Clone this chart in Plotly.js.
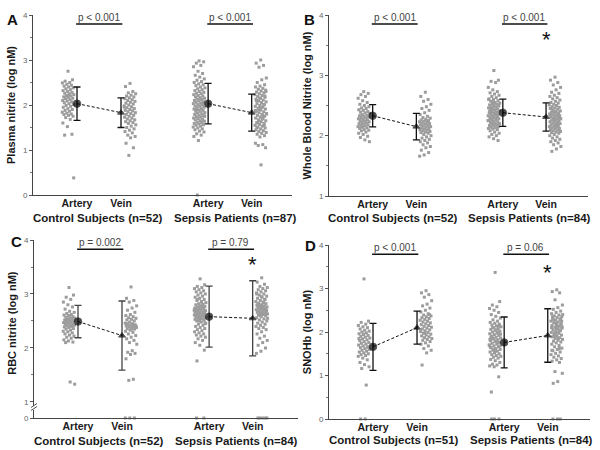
<!DOCTYPE html>
<html><head><meta charset="utf-8">
<script src="https://cdn.plot.ly/plotly-3.0.1.min.js"></script>
<style>html,body{margin:0;padding:0;background:#fff}#chart{width:600px;height:450px}</style>
</head><body><div id="chart"></div>
<script>
// ---------- shared categories ----------
const xpos = [1, 2, 3.98, 4.97];
const tickText = ['Artery', 'Vein', 'Artery', 'Vein'];

// ---------- Panel A : Plasma nitrite ----------
const A_ytitle = 'Plasma nitrite (log nM)';
const A_groups = ['Control Subjects (n=52)', 'Sepsis Patients (n=87)'];
const A_pvalues = ['p < 0.001', 'p < 0.001'];
const A_means = [2.03, 1.83, 2.03, 1.83];
const A_sd = [0.37, 0.33, 0.45, 0.41];
const A_ctrl_artery = [2.75,2.56,2.53,2.50,2.49,2.46,2.44,2.42,2.40,2.38,2.36,2.34,2.32,2.30,2.28,2.26,2.25,2.23,2.21,2.20,2.18,2.17,2.15,2.14,2.12,2.10,2.09,2.07,2.05,2.03,2.01,1.99,1.97,1.95,1.92,1.90,1.88,1.86,1.84,1.82,1.80,1.79,1.77,1.75,1.72,1.68,1.60,1.52,1.35,1.33,2.22,0.38];
const A_ctrl_vein = [2.48,2.41,2.30,2.27,2.25,2.22,2.20,2.18,2.16,2.14,2.12,2.10,2.08,2.06,2.04,2.02,2.00,1.98,1.96,1.94,1.92,1.90,1.88,1.87,1.85,1.83,1.81,1.79,1.77,1.75,1.73,1.71,1.69,1.67,1.65,1.63,1.61,1.59,1.56,1.53,1.50,1.47,1.44,1.41,1.38,1.33,1.30,1.27,1.15,1.05,0.88,1.95];
const A_sepsis_artery = [2.98,2.96,2.93,2.88,2.85,2.75,2.70,2.66,2.62,2.58,2.55,2.52,2.50,2.47,2.45,2.43,2.40,2.38,2.36,2.34,2.32,2.30,2.28,2.26,2.25,2.23,2.21,2.20,2.18,2.16,2.15,2.13,2.12,2.10,2.09,2.07,2.06,2.04,2.03,2.01,2.00,1.98,1.97,1.95,1.94,1.92,1.91,1.89,1.88,1.86,1.85,1.83,1.82,1.80,1.79,1.77,1.76,1.74,1.73,1.71,1.70,1.68,1.67,1.65,1.64,1.62,1.61,1.59,1.58,1.56,1.55,1.53,1.51,1.49,1.47,1.45,1.42,1.40,1.36,1.33,1.30,1.21,2.05,1.90,2.15,1.75,0.0];
const A_sepsis_vein = [3.00,2.93,2.88,2.84,2.60,2.56,2.50,2.45,2.42,2.40,2.37,2.35,2.33,2.31,2.29,2.27,2.25,2.23,2.21,2.19,2.17,2.15,2.13,2.11,2.09,2.07,2.05,2.03,2.01,1.99,1.97,1.95,1.93,1.91,1.89,1.87,1.85,1.83,1.81,1.79,1.77,1.75,1.73,1.71,1.69,1.67,1.65,1.63,1.61,1.59,1.57,1.55,1.53,1.51,1.49,1.47,1.45,1.43,1.41,1.39,1.37,1.35,1.32,1.29,1.15,1.12,1.10,1.05,0.67,2.10,2.00,1.90,1.80,1.70,1.60,2.20,1.95,1.85,1.75,1.65,2.30,2.05,1.50,1.55,2.15,1.88,1.78];

// ---------- Panel B : Whole blood nitrite ----------
const B_ytitle = 'Whole Blood Nitrite (log nM)';
const B_groups = ['Control Subjects (n=52)', 'Sepsis Patients (n=84)'];
const B_pvalues = ['p < 0.001', 'p < 0.001'];
const B_means = [2.33, 2.15, 2.38, 2.31];
const B_sd = [0.185, 0.22, 0.225, 0.235];
const B_ctrl_artery = [2.73,2.70,2.68,2.65,2.62,2.58,2.55,2.52,2.50,2.48,2.46,2.45,2.43,2.42,2.40,2.39,2.38,2.37,2.35,2.34,2.33,2.32,2.31,2.30,2.29,2.28,2.27,2.26,2.25,2.24,2.23,2.22,2.21,2.20,2.19,2.18,2.17,2.16,2.15,2.14,2.13,2.12,2.10,2.09,2.08,2.06,2.04,2.02,1.99,1.97,1.93,1.90];
const B_ctrl_vein = [2.72,2.65,2.60,2.57,2.52,2.48,2.45,2.42,2.38,2.35,2.32,2.30,2.29,2.27,2.26,2.25,2.24,2.23,2.22,2.21,2.20,2.19,2.18,2.17,2.16,2.15,2.14,2.13,2.12,2.11,2.10,2.09,2.08,2.07,2.06,2.05,2.04,2.02,2.00,1.98,1.96,1.94,1.92,1.90,1.88,1.85,1.82,1.80,1.76,1.72,1.68,1.66];
const B_sepsis_artery = [3.08,2.92,2.90,2.88,2.80,2.76,2.73,2.71,2.69,2.67,2.65,2.63,2.61,2.60,2.58,2.57,2.55,2.54,2.53,2.52,2.51,2.50,2.49,2.48,2.47,2.46,2.45,2.44,2.43,2.42,2.41,2.40,2.39,2.38,2.37,2.36,2.35,2.34,2.33,2.32,2.31,2.30,2.29,2.28,2.27,2.26,2.25,2.24,2.23,2.22,2.21,2.20,2.19,2.18,2.17,2.16,2.15,2.14,2.13,2.12,2.11,2.10,2.08,2.06,2.04,2.02,2.00,1.98,1.95,1.92,2.45,2.35,2.25,2.55,2.30,2.40,2.20,2.50,2.28,2.38,2.60,2.18,2.33,2.43];
const B_sepsis_vein = [2.97,2.92,2.88,2.84,2.80,2.76,2.72,2.70,2.67,2.65,2.63,2.61,2.59,2.57,2.55,2.54,2.52,2.51,2.50,2.48,2.47,2.46,2.45,2.44,2.42,2.41,2.40,2.39,2.38,2.37,2.36,2.35,2.34,2.33,2.32,2.31,2.30,2.29,2.28,2.27,2.26,2.25,2.24,2.23,2.22,2.21,2.20,2.19,2.18,2.17,2.16,2.15,2.14,2.13,2.12,2.11,2.10,2.09,2.08,2.07,2.06,2.05,2.04,2.02,2.00,1.98,1.96,1.94,1.92,1.90,1.88,1.85,1.82,1.78,1.74,2.30,2.25,2.35,2.20,2.40,2.28,2.15,2.45,2.33];

// ---------- Panel C : RBC nitrite ----------
const C_ytitle = 'RBC nitrite (log nM)';
const C_groups = ['Control Subjects (n=52)', 'Sepsis Patients (n=84)'];
const C_pvalues = ['p = 0.002', 'p = 0.79'];
const C_means = [2.49, 2.23, 2.58, 2.55];
const C_sd = [0.30, 0.64, 0.565, 0.695];
const C_ctrl_artery = [3.12,2.98,2.94,2.90,2.85,2.80,2.76,2.72,2.68,2.66,2.64,2.62,2.61,2.60,2.58,2.57,2.56,2.55,2.54,2.53,2.52,2.51,2.50,2.49,2.48,2.47,2.46,2.45,2.44,2.43,2.42,2.41,2.40,2.39,2.38,2.36,2.35,2.33,2.31,2.30,2.28,2.26,2.24,2.22,2.20,2.18,2.15,2.13,2.11,2.10,1.37,1.33];
const C_ctrl_vein = [3.13,2.92,2.88,2.85,2.78,2.74,2.70,2.66,2.62,2.60,2.58,2.56,2.55,2.53,2.52,2.50,2.48,2.46,2.45,2.44,2.43,2.42,2.41,2.40,2.39,2.38,2.37,2.36,2.35,2.33,2.31,2.29,2.26,2.23,2.20,2.17,2.14,2.10,2.07,1.95,1.92,1.90,1.88,1.80,1.42,1.40,2.40,2.35,2.45,0,0,0];
const C_sepsis_artery = [3.28,3.17,3.14,3.12,3.10,3.08,3.06,3.04,3.02,3.00,2.98,2.96,2.94,2.92,2.90,2.88,2.86,2.84,2.82,2.81,2.80,2.78,2.77,2.76,2.75,2.74,2.73,2.72,2.71,2.70,2.69,2.68,2.67,2.66,2.65,2.64,2.63,2.62,2.61,2.60,2.59,2.58,2.57,2.56,2.55,2.54,2.53,2.52,2.51,2.50,2.48,2.46,2.44,2.42,2.40,2.38,2.36,2.34,2.32,2.30,2.28,2.26,2.24,2.22,2.20,2.17,2.14,2.10,2.05,1.96,1.76,2.85,2.70,2.65,2.75,2.60,2.55,2.45,2.90,2.80,2.68,2.50,0,0];
const C_sepsis_vein = [3.30,3.22,3.18,3.14,3.12,3.10,3.08,3.06,3.04,3.02,3.00,2.98,2.96,2.94,2.92,2.90,2.88,2.86,2.84,2.83,2.82,2.80,2.79,2.78,2.77,2.76,2.75,2.74,2.73,2.72,2.71,2.70,2.69,2.68,2.67,2.66,2.65,2.64,2.63,2.62,2.61,2.60,2.58,2.56,2.54,2.52,2.50,2.48,2.46,2.44,2.42,2.40,2.38,2.36,2.34,2.30,2.26,2.22,2.18,2.14,2.10,2.05,2.00,1.94,1.90,2.85,2.75,2.70,2.65,2.80,2.90,2.60,2.55,2.72,2.78,2.68,2.95,3.00,2.62,0,0,0,0,0];

// ---------- Panel D : SNOHb ----------
const D_ytitle = 'SNOHb (log nM)';
const D_groups = ['Control Subjects (n=51)', 'Sepsis Patients (n=84)'];
const D_pvalues = ['p < 0.001', 'p = 0.06'];
const D_means = [1.66, 2.10, 1.76, 1.92];
const D_sd = [0.54, 0.38, 0.585, 0.615];
const D_ctrl_artery = [3.22,2.25,2.22,2.18,2.15,2.12,2.10,2.07,2.04,2.02,2.00,1.98,1.96,1.94,1.92,1.90,1.88,1.86,1.84,1.82,1.80,1.78,1.76,1.74,1.72,1.70,1.68,1.66,1.64,1.62,1.60,1.58,1.56,1.54,1.52,1.50,1.48,1.46,1.44,1.40,1.36,1.30,1.25,1.20,1.16,0.78,1.85,1.95,1.65,0,0];
const D_ctrl_vein = [2.95,2.90,2.86,2.80,2.72,2.64,2.60,2.55,2.50,2.46,2.42,2.39,2.37,2.35,2.33,2.31,2.29,2.27,2.25,2.23,2.21,2.19,2.17,2.15,2.13,2.11,2.09,2.07,2.05,2.03,2.01,1.99,1.97,1.95,1.93,1.91,1.89,1.87,1.85,1.83,1.81,1.78,1.75,1.72,1.68,1.62,1.58,1.52,1.24,2.40,1.98];
const D_sepsis_artery = [3.37,2.70,2.62,2.58,2.54,2.50,2.45,2.40,2.36,2.32,2.28,2.25,2.22,2.20,2.18,2.16,2.14,2.12,2.10,2.08,2.06,2.04,2.02,2.00,1.98,1.96,1.94,1.92,1.90,1.88,1.86,1.84,1.82,1.80,1.78,1.76,1.74,1.72,1.70,1.68,1.66,1.64,1.62,1.60,1.58,1.56,1.54,1.52,1.50,1.48,1.46,1.44,1.42,1.40,1.37,1.34,1.30,1.26,1.24,1.22,1.20,0.97,0.62,2.05,1.95,1.85,1.75,1.65,1.55,2.15,1.90,1.80,1.70,1.60,2.00,1.88,1.78,1.68,2.10,1.98,1.83,0,0,0];
const D_sepsis_vein = [2.97,2.93,2.90,2.74,2.62,2.56,2.52,2.48,2.45,2.42,2.39,2.37,2.35,2.33,2.31,2.29,2.27,2.25,2.23,2.21,2.19,2.17,2.15,2.13,2.11,2.09,2.07,2.05,2.03,2.01,1.99,1.97,1.95,1.93,1.91,1.89,1.87,1.85,1.83,1.81,1.79,1.77,1.75,1.72,1.69,1.66,1.63,1.60,1.57,1.54,1.51,1.48,1.45,1.42,1.39,1.36,1.33,1.30,1.09,1.05,0.86,0.82,2.30,2.20,2.10,2.00,1.90,2.25,2.15,2.35,2.05,1.95,2.40,1.85,2.28,2.18,2.08,1.58,1.62,1.98,2.12,0,0,0];

// ---------- build ----------
const FONT = 'Liberation Sans, Arial, sans-serif';
const traces = [];
const shapes = [];
const annotations = [];

function frac(v) { return v - Math.floor(v); }

function addPanel(cfg) {
  cfg.data.forEach((vals, g) => {
    const side = g % 2 === 0 ? -1 : 1;
    const main = {x: [], y: []}, zero = {x: [], y: []};
    vals.forEach((v, i) => {
      const xx = xpos[g] + side * (0.07 + 0.27 * frac(0.5 + i * 0.618034));
      if (cfg.yZero && v < 0.5) { zero.x.push(xx); zero.y.push(v); }
      else { main.x.push(xx); main.y.push(v); }
    });
    const mk = {size: 3, color: '#9c9c9c', symbol: 'square'};
    traces.push({type: 'scatter', mode: 'markers', x: main.x, y: main.y, xaxis: cfg.xa, yaxis: cfg.ya,
      marker: mk, cliponaxis: false, hoverinfo: 'y', showlegend: false});
    if (zero.x.length) traces.push({type: 'scatter', mode: 'markers', x: zero.x, y: zero.y, xaxis: cfg.xa, yaxis: cfg.yZero,
      marker: mk, cliponaxis: false, hoverinfo: 'y', showlegend: false});
  });
  for (let p = 0; p < 2; p++) {
    traces.push({type: 'scatter', mode: 'lines+markers', x: [xpos[2*p], xpos[2*p+1]],
      y: [cfg.means[2*p], cfg.means[2*p+1]], xaxis: cfg.xa, yaxis: cfg.ya, showlegend: false,
      line: {color: '#111', width: 1, dash: '3px,2px'},
      marker: {color: '#000', symbol: ['circle', 'triangle-up'], size: [7.5, 6]},
      error_y: {type: 'data', array: [cfg.sd[2*p], cfg.sd[2*p+1]], color: cfg.errColor, thickness: 1.3, width: 3.5},
      cliponaxis: false});
    shapes.push({type: 'line', xref: cfg.xa, yref: cfg.ya, x0: xpos[2*p] - 0.02, x1: xpos[2*p+1] + 0.03,
      y0: cfg.bracketY, y1: cfg.bracketY, line: {color: '#111', width: 1.5}});
    annotations.push({xref: cfg.xa, yref: cfg.ya, x: (xpos[2*p] + xpos[2*p+1]) / 2, y: cfg.bracketY,
      yanchor: 'bottom', yshift: -1, showarrow: false, text: cfg.pvalues[p],
      font: {family: FONT, size: 10, color: '#444'}});
    annotations.push({xref: cfg.xa, yref: 'paper', x: p === 0 ? 1.47 : 4.6, y: cfg.groupY,
      yanchor: 'middle', showarrow: false, text: cfg.groups[p],
      font: {family: FONT, size: 11.5, color: '#1a1a1a', weight: 'bold'}});
  }
  if (cfg.starY) annotations.push({xref: cfg.xa, yref: cfg.ya, x: xpos[3], y: cfg.starY, yanchor: 'middle',
    yshift: -5, showarrow: false, text: '*', font: {family: FONT, size: 22, color: '#111'}});
  annotations.push({xref: 'paper', yref: 'paper', x: cfg.letterPos[0] / 600, y: 1 - cfg.letterPos[1] / 450,
    xanchor: 'center', yanchor: 'middle', showarrow: false, text: cfg.letter,
    font: {family: FONT, size: 15, color: '#111', weight: 'bold'}});
}

addPanel({xa: 'x', ya: 'y', data: [A_ctrl_artery, A_ctrl_vein, A_sepsis_artery, A_sepsis_vein],
  means: A_means, sd: A_sd, pvalues: A_pvalues, groups: A_groups, bracketY: 3.8, groupY: 1 - 218/450,
  errColor: '#111', letter: 'A', letterPos: [12, 19]});
addPanel({xa: 'x2', ya: 'y2', data: [B_ctrl_artery, B_ctrl_vein, B_sepsis_artery, B_sepsis_vein],
  means: B_means, sd: B_sd, pvalues: B_pvalues, groups: B_groups, bracketY: 3.85, groupY: 1 - 218/450,
  errColor: '#111', starY: 3.67, letter: 'B', letterPos: [309, 19]});
addPanel({xa: 'x3', ya: 'y3', yZero: 'y5', data: [C_ctrl_artery, C_ctrl_vein, C_sepsis_artery, C_sepsis_vein],
  means: C_means, sd: C_sd, pvalues: C_pvalues, groups: C_groups, bracketY: 3.83, groupY: 1 - 441/450,
  errColor: '#444', starY: 3.63, letter: 'C', letterPos: [16, 241]});
addPanel({xa: 'x4', ya: 'y4', data: [D_ctrl_artery, D_ctrl_vein, D_sepsis_artery, D_sepsis_vein],
  means: D_means, sd: D_sd, pvalues: D_pvalues, groups: D_groups, bracketY: 3.79, groupY: 1 - 440/450,
  errColor: '#111', starY: 3.49, letter: 'D', letterPos: [310, 246]});

// axis-break marks on panel C's y axis
[405.5, 408.5].forEach(py => shapes.push({type: 'line', xref: 'paper', yref: 'paper',
  x0: 31/600, x1: 37/600, y0: 1 - (py + 2) / 450, y1: 1 - (py - 2) / 450, line: {color: '#555', width: 1}}));

function xAxis(dom, rng, anchor) {
  return {domain: dom, range: rng, anchor: anchor, showline: true, linecolor: '#444', linewidth: 1,
    ticks: '', tickvals: xpos, ticktext: tickText, showgrid: false, zeroline: false, ticklabelstandoff: -2,
    tickfont: {family: FONT, size: 10.5, color: '#1a1a1a', weight: 'bold'}};
}
function yAxis(dom, rng, anchor, title) {
  return {domain: dom, range: rng, anchor: anchor, showline: true, linecolor: '#444', linewidth: 1,
    ticks: 'outside', ticklen: 3, tickcolor: '#555', dtick: 1, tick0: 0, showgrid: false, zeroline: false,
    minor: {dtick: 0.5, tick0: 0, ticks: 'outside', ticklen: 2, tickcolor: '#777', showgrid: false},
    tickfont: {family: FONT, size: 8, color: '#666'},
    title: title ? {text: title, standoff: 5, font: {family: FONT, size: 11, color: '#1a1a1a', weight: 'bold'}} : undefined};
}

const layout = {
  width: 600, height: 450, margin: {l: 0, r: 0, t: 0, b: 0},
  paper_bgcolor: '#fff', plot_bgcolor: 'rgba(0,0,0,0)', showlegend: false,
  font: {family: FONT},
  xaxis: xAxis([33/600, 292/600], [0, 5.886], 'y'),
  yaxis: yAxis([1 - 195/450, 1 - 15/450], [0, 4], 'x', A_ytitle),
  xaxis2: xAxis([329/600, 588/600], [0, 5.93], 'y2'),
  yaxis2: yAxis([1 - 196/450, 1 - 15/450], [1, 4], 'x2', B_ytitle),
  xaxis3: xAxis([34/600, 298/600], [0, 6.0], 'y5'),
  yaxis3: yAxis([1 - 406.3/450, 1 - 240/450], [0.92, 4], 'x3', C_ytitle),
  yaxis5: Object.assign(yAxis([1 - 418/450, 1 - 410/450], [0, 0.15], 'x3'), {tickvals: [0], minor: {ticks: ''}}),
  xaxis4: xAxis([329/600, 590/600], [0, 5.93], 'y4'),
  yaxis4: yAxis([1 - 419/450, 1 - 245/450], [0, 4], 'x4', D_ytitle),
  shapes: shapes, annotations: annotations
};

Plotly.newPlot('chart', traces, layout, {displayModeBar: false, staticPlot: true});
</script></body></html>
